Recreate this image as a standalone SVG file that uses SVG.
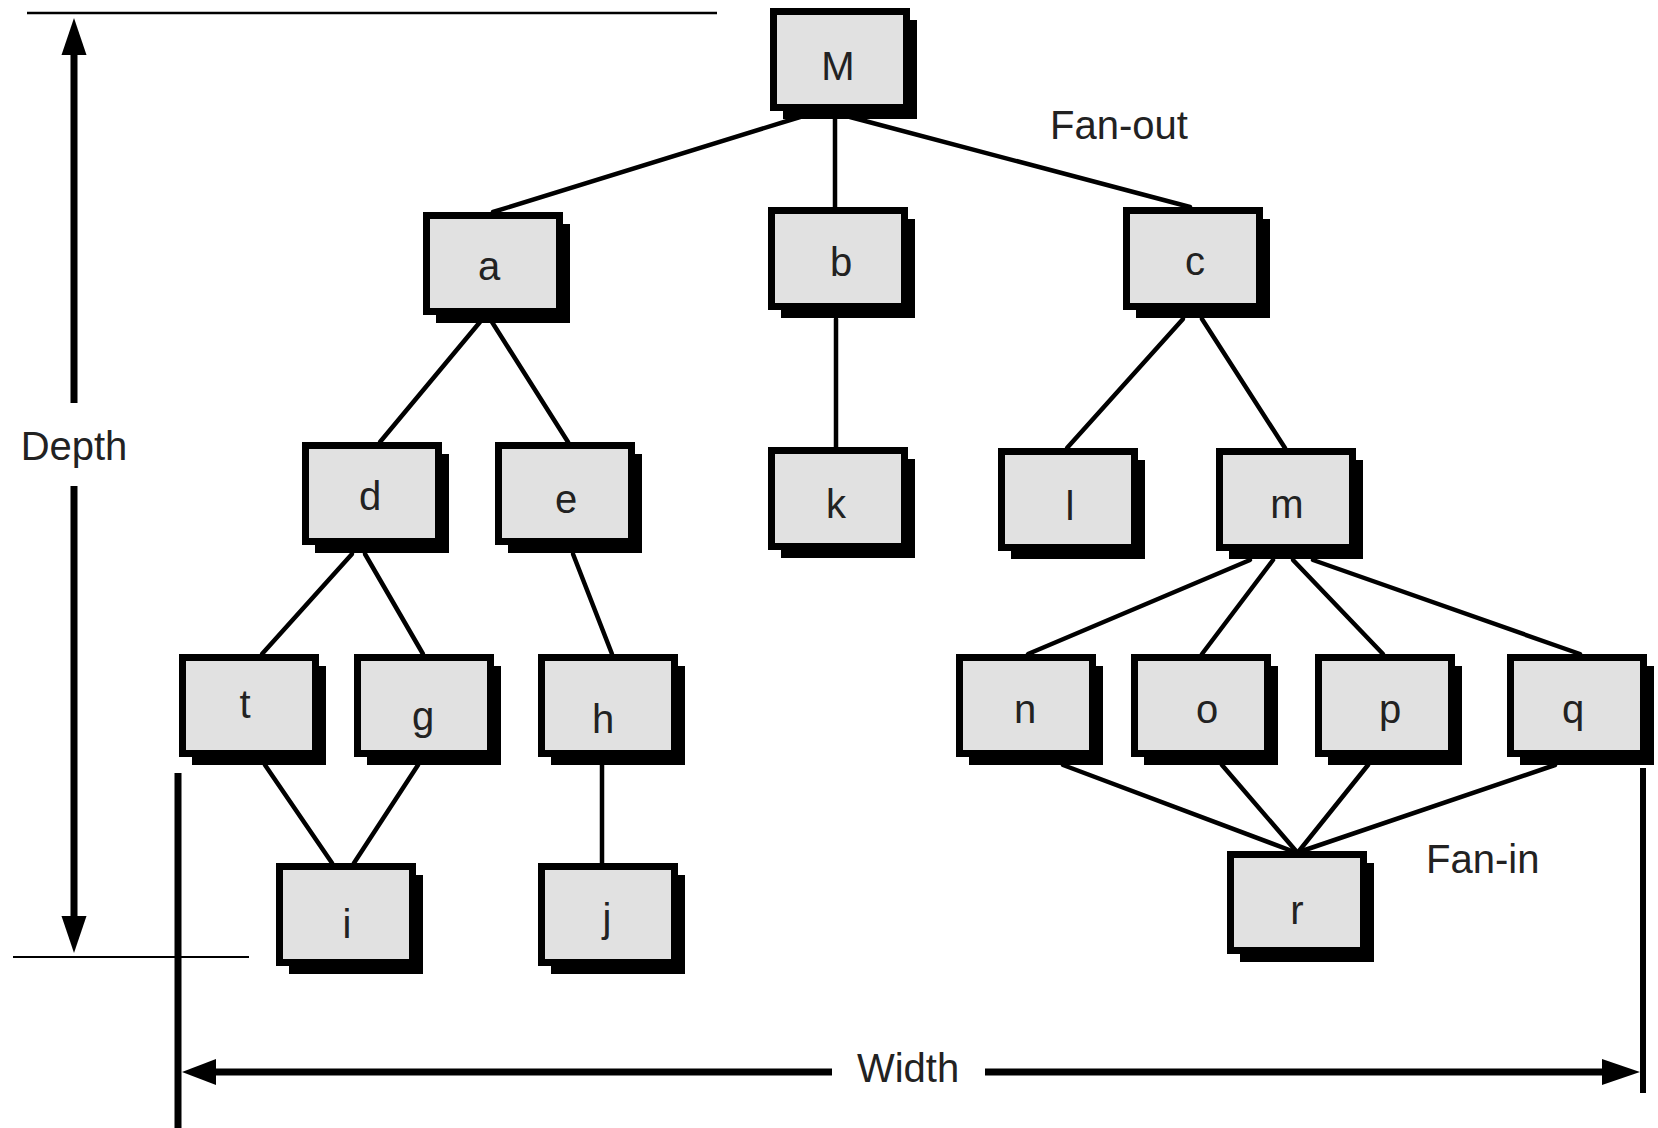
<svg xmlns="http://www.w3.org/2000/svg" width="1658" height="1128" viewBox="0 0 1658 1128">
<style>
.sh{fill:#000}
.bx{fill:#e1e1e1;stroke:#000;stroke-width:7}
.lb{font-family:"Liberation Sans",Arial,sans-serif;font-size:40px;fill:#222;text-anchor:middle}
.cn line{stroke:#000;stroke-width:4.5;stroke-linecap:round}
.dim{stroke:#000;fill:none}
.tx{font-family:"Liberation Sans",Arial,sans-serif;font-size:40px;fill:#222}
</style>
<defs>
<g id="nb">
<rect class="sh" x="13" y="12" width="134" height="99"/>
<rect class="bx" x="3.5" y="3.5" width="133" height="96"/>
</g>
</defs>
<rect width="1658" height="1128" fill="#fff"/>

<g id="connectors" class="cn">
<line x1="800" y1="117" x2="493" y2="212"/>
<line x1="835" y1="118" x2="835" y2="207"/>
<line x1="850" y1="117" x2="1190" y2="207"/>
<line x1="480" y1="322" x2="380" y2="442"/>
<line x1="492" y1="322" x2="568" y2="442"/>
<line x1="836" y1="319" x2="836" y2="447"/>
<line x1="1183" y1="319" x2="1067" y2="448"/>
<line x1="1202" y1="319" x2="1285" y2="448"/>
<line x1="352" y1="554" x2="262" y2="654"/>
<line x1="365" y1="554" x2="423" y2="654"/>
<line x1="573" y1="554" x2="612" y2="654"/>
<line x1="1250" y1="560" x2="1028" y2="654"/>
<line x1="1273" y1="560" x2="1202" y2="654"/>
<line x1="1293" y1="560" x2="1383" y2="654"/>
<line x1="1313" y1="560" x2="1580" y2="654"/>
<line x1="265" y1="765" x2="332" y2="863"/>
<line x1="418" y1="765" x2="354" y2="863"/>
<line x1="602" y1="765" x2="602" y2="863"/>
<line x1="1063" y1="765" x2="1292" y2="851"/>
<line x1="1222" y1="765" x2="1296" y2="851"/>
<line x1="1368" y1="765" x2="1299" y2="851"/>
<line x1="1555" y1="765" x2="1302" y2="851"/>
</g>

<g id="node-M"><use href="#nb" x="770" y="8"/><text class="lb" x="838" y="80">M</text></g>
<g id="node-a"><use href="#nb" x="423" y="212"/><text class="lb" x="489" y="280">a</text></g>
<g id="node-b"><use href="#nb" x="768" y="207"/><text class="lb" x="841" y="276">b</text></g>
<g id="node-c"><use href="#nb" x="1123" y="207"/><text class="lb" x="1195" y="275">c</text></g>
<g id="node-d"><use href="#nb" x="302" y="442"/><text class="lb" x="370" y="510">d</text></g>
<g id="node-e"><use href="#nb" x="495" y="442"/><text class="lb" x="566" y="513">e</text></g>
<g id="node-k"><use href="#nb" x="768" y="447"/><text class="lb" x="836" y="518">k</text></g>
<g id="node-l"><use href="#nb" x="998" y="448"/><text class="lb" x="1070" y="520">l</text></g>
<g id="node-m"><use href="#nb" x="1216" y="448"/><text class="lb" x="1287" y="518">m</text></g>
<g id="node-t"><use href="#nb" x="179" y="654"/><text class="lb" x="245" y="718">t</text></g>
<g id="node-g"><use href="#nb" x="354" y="654"/><text class="lb" x="423" y="730">g</text></g>
<g id="node-h"><use href="#nb" x="538" y="654"/><text class="lb" x="603" y="733">h</text></g>
<g id="node-n"><use href="#nb" x="956" y="654"/><text class="lb" x="1025" y="723">n</text></g>
<g id="node-o"><use href="#nb" x="1131" y="654"/><text class="lb" x="1207" y="723">o</text></g>
<g id="node-p"><use href="#nb" x="1315" y="654"/><text class="lb" x="1390" y="723">p</text></g>
<g id="node-q"><use href="#nb" x="1507" y="654"/><text class="lb" x="1573" y="723">q</text></g>
<g id="node-i"><use href="#nb" x="276" y="863"/><text class="lb" x="347" y="938">i</text></g>
<g id="node-j"><use href="#nb" x="538" y="863"/><text class="lb" x="607" y="932">j</text></g>
<g id="node-r"><use href="#nb" x="1227" y="851"/><text class="lb" x="1297" y="924">r</text></g>

<g id="depth">
<line class="dim" x1="27" y1="13" x2="717" y2="13" stroke-width="2.5"/>
<line class="dim" x1="13" y1="957" x2="249" y2="957" stroke-width="2"/>
<line class="dim" x1="74" y1="50" x2="74" y2="403" stroke-width="7"/>
<line class="dim" x1="74" y1="486" x2="74" y2="920" stroke-width="7"/>
<polygon points="74,18 61.5,55 86.5,55" fill="#000"/>
<polygon points="74,953 61.5,916 86.5,916" fill="#000"/>
<text class="tx" x="74" y="460" text-anchor="middle">Depth</text>
</g>

<g id="width">
<line class="dim" x1="178" y1="773" x2="178" y2="1128" stroke-width="7"/>
<line class="dim" x1="1643" y1="768" x2="1643" y2="1093" stroke-width="6"/>
<line class="dim" x1="210" y1="1072" x2="832" y2="1072" stroke-width="7"/>
<line class="dim" x1="985" y1="1072" x2="1606" y2="1072" stroke-width="7"/>
<polygon points="182,1072 216,1059 216,1085" fill="#000"/>
<polygon points="1640,1072 1602,1059 1602,1085" fill="#000"/>
<text class="tx" x="908" y="1082" text-anchor="middle" font-size="42">Width</text>
</g>

<g id="labels">
<text class="tx" x="1050" y="139">Fan-out</text>
<text class="tx" x="1426" y="873" font-size="38">Fan-in</text>
</g>
</svg>
